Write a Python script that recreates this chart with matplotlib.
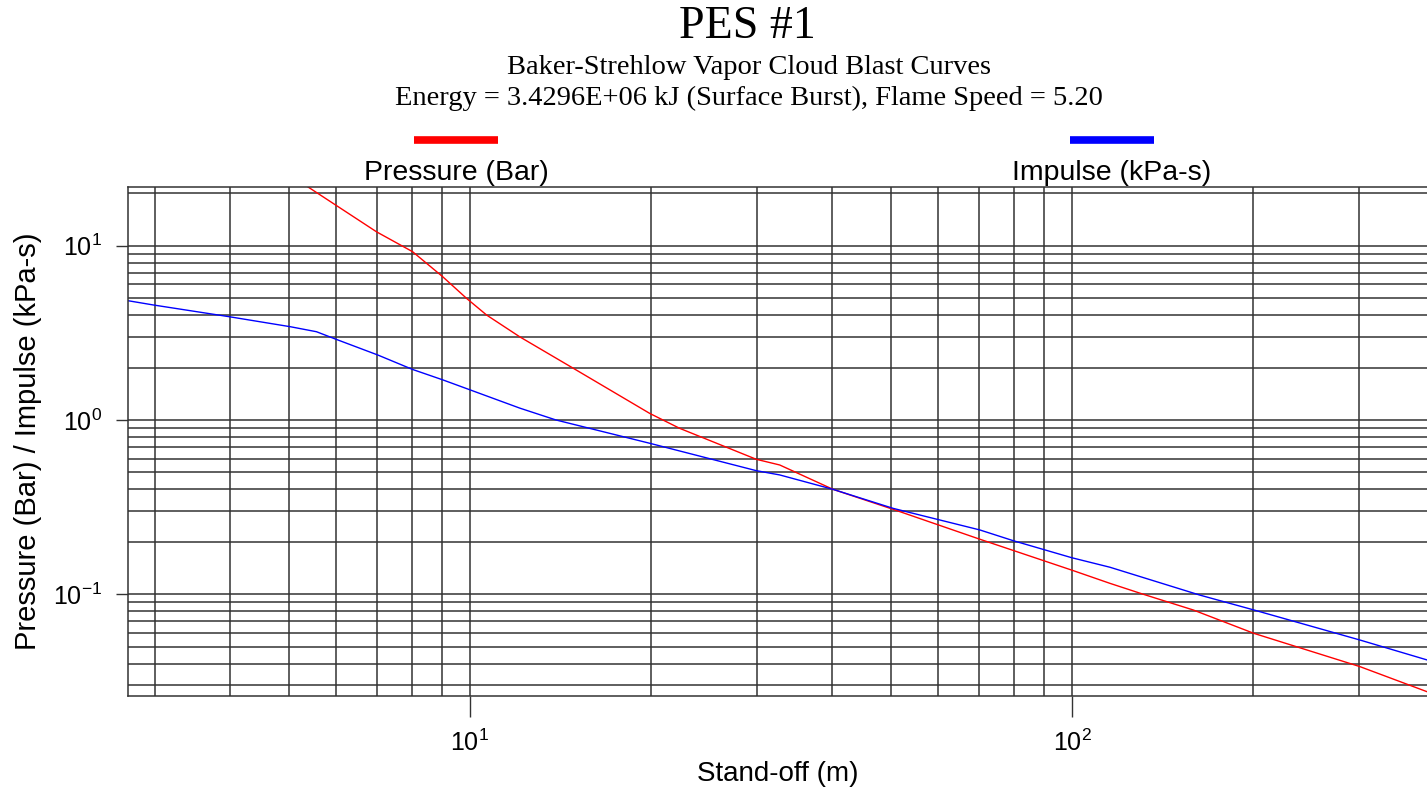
import matplotlib
matplotlib.use("Agg")
import matplotlib.pyplot as plt
from matplotlib.lines import Line2D

# ---- data ----
standoff_p = [5.2, 5.42, 7.0, 8.03, 9.01, 9.87, 10.66, 12.1, 15.0, 19.9, 22.3,
              29.9, 32.7, 40.1, 50.5, 70.3, 100.0, 115.6, 131.4, 159.0, 200.5,
              300.6, 389.0]
pressure_bar = [23.5, 21.4, 12.0, 9.24, 6.64, 4.99, 4.0, 3.0, 1.94, 1.09, 0.896,
                0.595, 0.552, 0.400, 0.307, 0.207, 0.1375, 0.1156, 0.100, 0.0813,
                0.0597, 0.0385, 0.0276]

standoff_i = [2.70, 2.98, 3.99, 5.03, 5.56, 6.0, 7.03, 8.03, 9.01, 10.0, 12.1,
              13.9, 19.9, 29.9, 32.7, 40.1, 50.5, 70.3, 79.9, 100.0, 115.6, 163.0,
              200.5, 300.6, 389.0]
impulse_kpas = [4.84, 4.57, 3.91, 3.43, 3.21, 2.90, 2.36, 1.95, 1.70, 1.49, 1.17,
                1.0, 0.735, 0.512, 0.484, 0.40, 0.311, 0.234, 0.203, 0.162, 0.143,
                0.099, 0.0813, 0.0547, 0.042]

title = "PES #1"
subtitle = "Baker-Strehlow Vapor Cloud Blast Curves"
info = "Energy = 3.4296E+06 kJ (Surface Burst), Flame Speed = 5.20"
series_labels = ["Pressure (Bar)", "Impulse (kPa-s)"]
series_colors = ["#ff0000", "#0000ff"]

plt.rcParams['font.family'] = ['Liberation Sans', 'DejaVu Sans']
plt.rcParams['axes.unicode_minus'] = False

W, H = 1427, 787
fig = plt.figure(figsize=(W / 100, H / 100), dpi=100)
ax = fig.add_axes([128 / W, 1 - 696 / H, (W - 128) / W, (696 - 187) / H])

ax.set_xscale('log')
ax.set_yscale('log')
ax.set_xlim(2.704, 388.8)
ax.set_ylim(0.02609, 21.72)

gridc = '#333333'
ax.grid(True, which='both', color=gridc, lw=1.1)
ax.set_axisbelow(True)
for s in ['left', 'bottom', 'top']:
    ax.spines[s].set_color(gridc)
    ax.spines[s].set_linewidth(1.1)
ax.spines['right'].set_visible(False)
ax.tick_params(axis='x', which='major', length=15, width=1.0, color=gridc,
               labelsize=18, pad=9)
ax.tick_params(axis='y', which='major', length=8.6, width=1.0, color=gridc,
               labelsize=18, pad=10)
ax.tick_params(which='minor', length=0)
ax.xaxis.set_minor_formatter(matplotlib.ticker.NullFormatter())
ax.yaxis.set_minor_formatter(matplotlib.ticker.NullFormatter())

ax.plot(standoff_p, pressure_bar, color=series_colors[0], lw=1.0)
ax.plot(standoff_i, impulse_kpas, color=series_colors[1], lw=1.0)

ax.set_xlabel("Stand-off (m)", fontsize=20, labelpad=4)
ax.set_ylabel("Pressure (Bar) / Impulse (kPa-s)", fontsize=21, labelpad=8)

serif = ['Liberation Serif', 'DejaVu Serif']
fig.text(747 / W, 1 - 38 / H, title, family=serif, size=33, ha='center', va='baseline')
fig.text(749 / W, 1 - 74 / H, subtitle, family=serif, size=20.5, ha='center', va='baseline')
fig.text(749 / W, 1 - 105 / H, info, family=serif, size=20.5, ha='center', va='baseline')

# legend: swatch above label
for lab, col, cx in zip(series_labels, series_colors, [456, 1112]):
    fig.add_artist(Line2D([(cx - 42) / W, (cx + 42) / W], [1 - 140 / H, 1 - 140 / H],
                          color=col, lw=5.5, solid_capstyle='butt',
                          transform=fig.transFigure))
    fig.text(cx / W, 1 - 173 / H, lab, size=20.5, ha='center', va='center')

fig.savefig("out.png", dpi=100)
